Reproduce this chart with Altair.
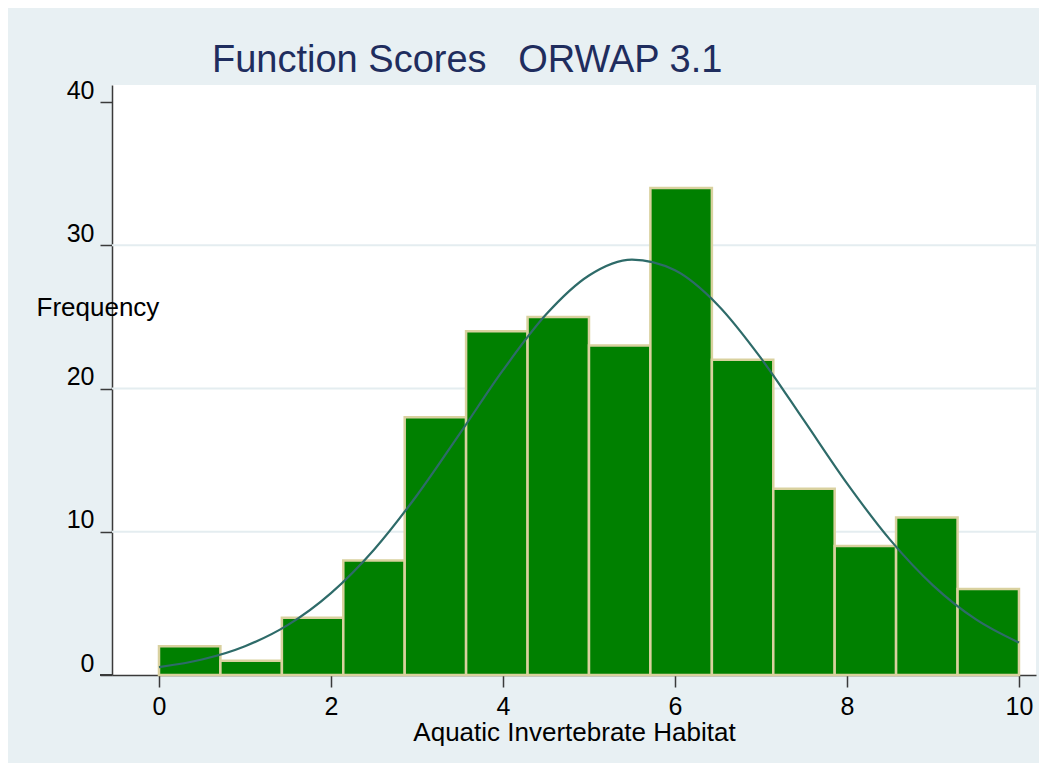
import altair as alt
import pandas as pd

# Histogram bins (left edges and right edges) and counts
bin_starts = [0.0, 0.714, 1.429, 2.143, 2.857, 3.571, 4.286, 5.0, 5.714, 6.429, 7.143, 7.857, 8.571, 9.286]
bin_ends = [0.714, 1.429, 2.143, 2.857, 3.571, 4.286, 5.0, 5.714, 6.429, 7.143, 7.857, 8.571, 9.286, 10.0]
frequencies = [2, 1, 4, 8, 18, 24, 25, 23, 34, 22, 13, 9, 11, 6]

# Normal-density overlay
curve_x = [0, 0.5, 1, 1.5, 2, 2.5, 3, 3.5, 4, 4.5, 5, 5.5, 6, 6.5, 7, 7.5, 8, 8.5, 9, 9.5, 10]
curve_y = [0.55, 1.08, 2.01, 3.5, 5.72, 8.75, 12.55, 16.87, 21.28, 25.16, 27.89, 29.0,
           28.25, 25.82, 22.12, 17.77, 13.38, 9.45, 6.26, 3.88, 2.26]

x_ticks = [0, 2, 4, 6, 8, 10]
y_ticks = [0, 10, 20, 30, 40]
grid_values = [10, 20, 30]

title_text = "Function Scores\u00a0\u00a0\u00a0ORWAP 3.1"
x_title = "Aquatic Invertebrate Habitat"
y_title = "Frequency"

bars_df = pd.DataFrame({"start": bin_starts, "end": bin_ends, "freq": frequencies})
curve_df = pd.DataFrame({"x": curve_x, "y": curve_y})
grid_df = pd.DataFrame({"g": grid_values})

FONT = "Liberation Sans"
AXIS_COL = "#3a3a3a"

xscale = alt.Scale(domain=[-0.5465, 10.198], nice=False, zero=False)
yscale = alt.Scale(domain=[0, 41.19], nice=False, zero=True)

x_axis = alt.Axis(
    values=x_ticks, format="d", grid=False,
    labelFontSize=25, labelFont=FONT, labelColor="black", labelPadding=7,
    tickSize=12, tickColor=AXIS_COL, tickWidth=1.5,
    domainColor=AXIS_COL, domainWidth=1.5,
    title=x_title, titleFontSize=26, titleFont=FONT, titleFontWeight="normal",
    titleColor="black", titleY=65, titleBaseline="alphabetic",
)
y_axis = alt.Axis(
    values=y_ticks, format="d", grid=False,
    labelFontSize=25, labelFont=FONT, labelColor="black", labelPadding=6,
    labelBaseline="alphabetic", labelOffset=-4,
    tickSize=12, tickColor=AXIS_COL, tickWidth=1.5,
    domainColor=AXIS_COL, domainWidth=1.5,
    title=y_title, titleAngle=0, titleAlign="left", titleBaseline="middle",
    titleX=-76, titleY=222, titleFontSize=26, titleFont=FONT,
    titleFontWeight="normal", titleColor="black",
)

grid = alt.Chart(grid_df).mark_rule(color="#e4edf0", strokeWidth=2).encode(
    y=alt.Y("g:Q", scale=yscale, axis=y_axis)
)

bars = alt.Chart(bars_df).mark_bar(
    color="#008000", stroke="#d9d19f", strokeWidth=2.5
).encode(
    x=alt.X("start:Q", scale=xscale, axis=x_axis),
    x2="end:Q",
    y=alt.Y("freq:Q", scale=yscale, axis=y_axis),
    y2=alt.datum(0),
)

curve = alt.Chart(curve_df).mark_line(
    color="#2e6b69", strokeWidth=2.2, interpolate="monotone"
).encode(
    x=alt.X("x:Q", scale=xscale, axis=x_axis),
    y=alt.Y("y:Q", scale=yscale, axis=y_axis),
)

axis_ext = alt.Chart(curve_df).mark_rule(color=AXIS_COL, strokeWidth=1.5).encode(
    x=alt.value(-12), x2=alt.value(0), y=alt.value(590)
)

chart = alt.layer(grid, bars, curve, axis_ext).properties(
    width=924,
    height=590,
    background="#e8f0f3",
    padding={"left": 104, "top": 77, "right": 3, "bottom": 88},
    autosize=alt.AutoSizeParams(type="none"),
    title=alt.TitleParams(
        text=title_text, anchor="start", frame="group", dx=100, offset=8, dy=40,
        baseline="alphabetic", fontSize=38, font=FONT, color="#1f2d5e",
        fontWeight="normal",
    ),
).configure(font=FONT).configure_view(fill="white", strokeWidth=0)

chart.save("out.html", embed_options={"renderer": "svg", "actions": False})
